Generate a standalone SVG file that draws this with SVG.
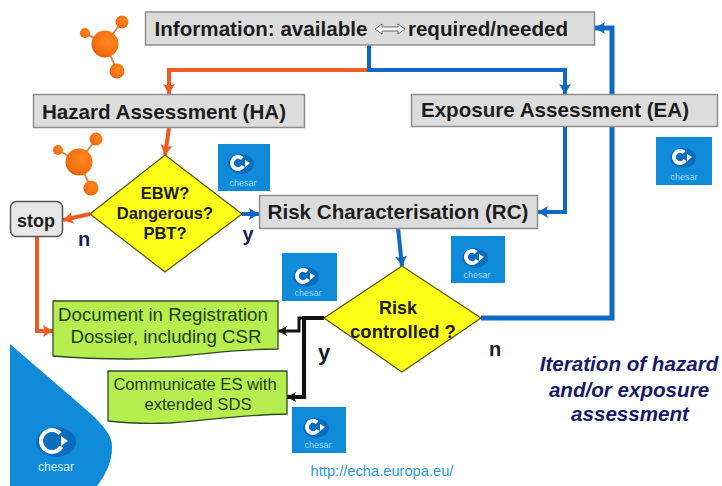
<svg xmlns="http://www.w3.org/2000/svg" width="722" height="486" viewBox="0 0 722 486">
<style>
text{font-family:"Liberation Sans",Arial,sans-serif;text-anchor:middle}
.box{fill:#dcdcdc;stroke:#8e8e8e;stroke-width:1.5}
.bt{font-size:20.600px;font-weight:bold;fill:#1c1c1c}
.dia{fill:#ffff1a;stroke:#5a5a14;stroke-width:1.3}
.dt{font-size:16.500px;font-weight:bold;fill:#1a1a1a}
.note{fill:#b7ee4f;stroke:#2f4a22;stroke-width:1.3}
.nt{fill:#1d3d14}
.lab{font-size:20px;font-weight:bold;fill:#1b1f5c}
.or{fill:none;stroke:#f15a22;stroke-width:4}
.bl{fill:none;stroke:#0f69c4;stroke-width:4}
.bk{fill:none;stroke:#111;stroke-width:4}
.ic{fill:#0f8bd9}
.bb{fill:#0a6cbc}
.ci{fill:none;stroke:#fff;stroke-width:4}
.cs{fill:#9fd6f3;font-size:9px}
.mo{fill:url(#mg)}
.ml{stroke:#d98a50;stroke-width:2}
</style>
<defs>
<radialGradient id="mg" cx="0.6" cy="0.4" r="0.7"><stop offset="0" stop-color="#ff8a1e"/><stop offset="0.75" stop-color="#f26c12"/><stop offset="1" stop-color="#b9560f"/></radialGradient>
<marker id="ao" markerUnits="userSpaceOnUse" markerWidth="12" markerHeight="12" refX="10" refY="6" orient="auto"><path d="M0 0L10 6L0 12L2 6Z" fill="#f15a22"/></marker>
<marker id="ab" markerUnits="userSpaceOnUse" markerWidth="12" markerHeight="12" refX="10" refY="6" orient="auto"><path d="M0 0L10 6L0 12L2 6Z" fill="#0f69c4"/></marker>
<marker id="ak" markerUnits="userSpaceOnUse" markerWidth="10" markerHeight="10" refX="9" refY="5" orient="auto"><path d="M0 0L9 5L0 10L2 5Z" fill="#111"/></marker>
</defs>
<g id="connectors">
<path class="or" marker-end="url(#ao)" d="M369 70H169V94"/>
<path class="bl" marker-end="url(#ab)" d="M369 45V70H565V94"/>
<path class="or" marker-end="url(#ao)" d="M169 128L165 155"/>
<path class="or" marker-end="url(#ao)" d="M90 214L63 220"/>
<path class="or" marker-end="url(#ao)" d="M37 237V331H53"/>
<path class="bl" marker-end="url(#ab)" d="M242 214H259"/>
<path class="bl" marker-end="url(#ab)" d="M565 127V212H538"/>
<path class="bl" marker-end="url(#ab)" d="M398 228L402 266"/>
<path class="bl" style="stroke-width:5" marker-end="url(#ab)" d="M481 318H612V28H595"/>
<path class="bk" style="stroke-width:3" marker-end="url(#ak)" d="M324 318H299V331H278"/>
<path class="bk" marker-end="url(#ak)" d="M324 318H304V397H287"/>
</g>
<g id="mol1"><path class="ml" d="M105 44L122 22M105 44L85 33M105 44L117 70"/><circle class="mo" cx="105" cy="44" r="13.500"/><circle class="mo" cx="122" cy="22" r="6.500"/><circle class="mo" cx="85" cy="33" r="5"/><circle class="mo" cx="117" cy="71" r="7.500"/></g>
<g id="mol2"><path class="ml" d="M79 162L96 139M79 162L58 150M79 162L91 188"/><circle class="mo" cx="79" cy="162" r="13.500"/><circle class="mo" cx="96" cy="139" r="6.500"/><circle class="mo" cx="58" cy="150" r="5"/><circle class="mo" cx="91" cy="188" r="7.500"/></g>
<g id="info"><rect class="box" x="145.500" y="12" width="449" height="33"/><text class="bt" x="261" y="36">Information: available</text><path d="M375 29l7-5v3h16v-3l7 5-7 5v-3h-16v3z" fill="#fff" stroke="#666"/><text class="bt" x="488" y="36">required/needed</text></g>
<g id="ha"><rect class="box" x="33.500" y="94.500" width="271" height="33"/><text class="bt" x="164" y="119">Hazard Assessment (HA)</text></g>
<g id="ea"><rect class="box" x="411.500" y="94.500" width="306" height="32"/><text class="bt" x="555" y="117">Exposure Assessment (EA)</text></g>
<g id="rc"><rect class="box" x="259.500" y="195.500" width="278" height="33"/><text class="bt" x="398" y="219">Risk Characterisation (RC)</text></g>
<g id="d1"><path class="dia" d="M165 155L242 214L165 272L90 214Z"/><text class="dt" x="165" y="199">EBW?</text><text class="dt" x="165" y="219">Dangerous?</text><text class="dt" x="165" y="239">PBT?</text></g>
<g id="d2"><path class="dia" d="M402 266L481 318L402 372L324 318Z"/><text class="dt" x="398" y="314" style="font-size:18px">Risk</text><text class="dt" x="403" y="338" style="font-size:18.500px">controlled ?</text></g>
<g id="stop"><rect x="10.500" y="201.500" width="52" height="35" rx="6" fill="#e8e8e8" stroke="#555" stroke-width="1.5"/><text x="36" y="227" style="font-size:18px;font-weight:bold;fill:#1a1a1a">stop</text></g>
<g id="doc"><path class="note" d="M53 301H278V349C220 349 190 358 130 359C100 359 75 358 53 356Z"/><text class="nt" x="163" y="321" style="font-size:18.700px">Document in Registration</text><text class="nt" x="166" y="343" style="font-size:18.700px">Dossier, including CSR</text></g>
<g id="comm"><path class="note" d="M108 371H287V414C240 415 210 420 170 423C145 424 125 423 108 421Z"/><text class="nt" x="195" y="390" style="font-size:16.600px">Communicate ES with</text><text class="nt" x="198" y="410" style="font-size:16.600px">extended SDS</text></g>
<g id="labels">
<text class="lab" x="84" y="246">n</text>
<text class="lab" x="248" y="241">y</text>
<text class="lab" x="324" y="360" style="fill:#1a1a2a;font-size:22px">y</text>
<text class="lab" x="495" y="356" style="fill:#1a1a2a">n</text>
<g style="font-size:20.600px;font-weight:bold;font-style:italic;fill:#16186a"><text x="629" y="371">Iteration of hazard</text><text x="629" y="397">and/or exposure</text><text x="630" y="421">assessment</text></g>
<text x="382" y="476" style="font-size:14.700px;fill:#2a9ad6">http://echa.europa.eu/</text>
</g>
<g id="chesar-big"><path class="ic" d="M10 344L90 413C105 427 112 436 112 447C112 462 106 474 97 486H10Z"/><ellipse class="bb" cx="56" cy="442" rx="20" ry="15"/><circle class="ci" cx="52" cy="441" r="11" stroke-dasharray="55 14" transform="rotate(30 52 441)"/><path d="M61 436l7 5-7 5z" fill="#fff"/><text x="56" y="471" style="font-size:12px;fill:#d6eefa">chesar</text></g>
<g id="ic1"><rect class="ic" x="218" y="144" width="52" height="47"/><ellipse class="bb" cx="241" cy="164" rx="13" ry="10"/><circle class="ci" cx="238" cy="163" r="6" stroke-dasharray="29 9" transform="rotate(30 238 163)"/><path d="M245 160l5 3-5 4z" fill="#fff"/><text class="cs" x="243" y="186">chesar</text></g>
<g id="ic2"><rect class="ic" x="656" y="137" width="56" height="48"/><ellipse class="bb" cx="683" cy="158" rx="13" ry="10"/><circle class="ci" cx="680" cy="157" r="6" stroke-dasharray="29 9" transform="rotate(30 680 157)"/><path d="M687 154l5 3-5 4z" fill="#fff"/><text class="cs" x="684" y="180">chesar</text></g>
<g id="ic3"><rect class="ic" x="451" y="236" width="54" height="47"/><ellipse class="bb" cx="475" cy="258" rx="13" ry="10"/><circle class="ci" cx="472" cy="257" r="6" stroke-dasharray="29 9" transform="rotate(30 472 257)"/><path d="M479 254l5 3-5 4z" fill="#fff"/><text class="cs" x="477" y="278">chesar</text></g>
<g id="ic4"><rect class="ic" x="282" y="253" width="55" height="48"/><ellipse class="bb" cx="306" cy="277" rx="13" ry="10"/><circle class="ci" cx="303" cy="276" r="6" stroke-dasharray="29 9" transform="rotate(30 303 276)"/><path d="M310 273l5 3-5 4z" fill="#fff"/><text class="cs" x="308" y="296">chesar</text></g>
<g id="ic5"><rect class="ic" x="292" y="407" width="54" height="46"/><ellipse class="bb" cx="316" cy="428" rx="13" ry="10"/><circle class="ci" cx="313" cy="427" r="6" stroke-dasharray="29 9" transform="rotate(30 313 427)"/><path d="M320 424l5 3-5 4z" fill="#fff"/><text class="cs" x="318" y="448">chesar</text></g>
</svg>
